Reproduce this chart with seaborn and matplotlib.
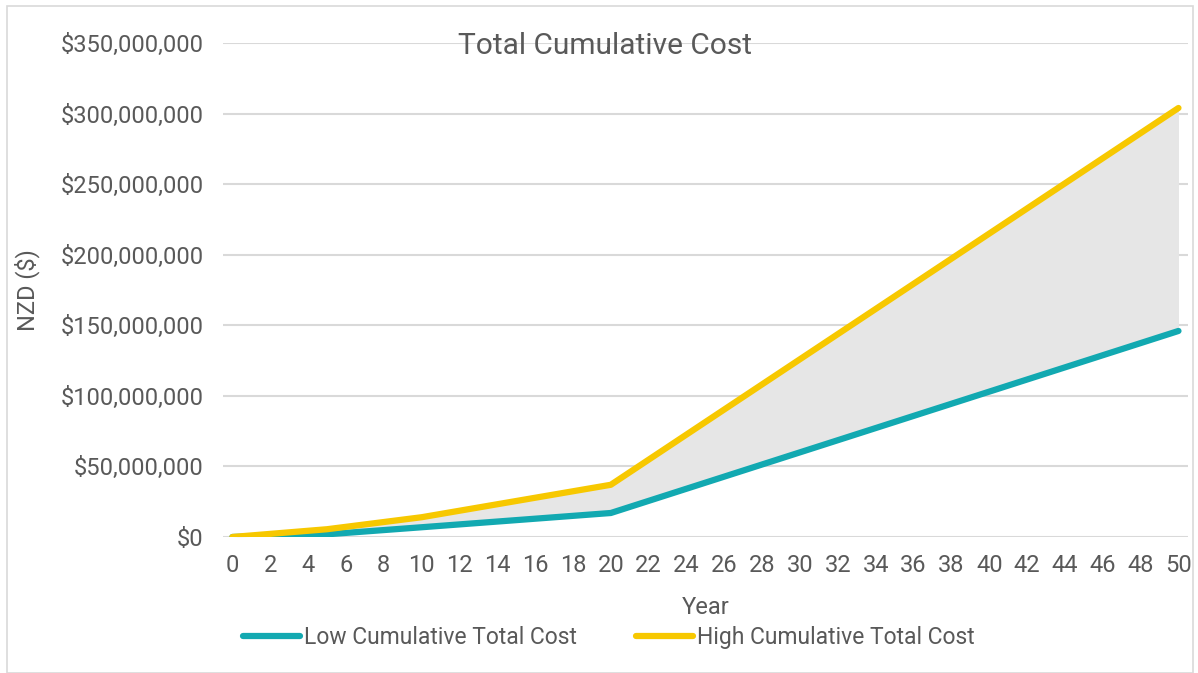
import numpy as np
import pandas as pd
import seaborn as sns
import matplotlib.pyplot as plt
from matplotlib.ticker import FuncFormatter
from matplotlib.patches import Rectangle

years = [0, 5, 10, 20, 50]
low_cost = [0, 1.9e6, 6.9e6, 17.0e6, 146e6]
high_cost = [0, 5.5e6, 14.0e6, 37.0e6, 304e6]
series_names = ['Low Cumulative Total Cost', 'High Cumulative Total Cost']
colours = ['#12A9B1', '#F7C800']
grey = '#595959'

sns.set_theme(style='white')
plt.rcParams['font.family'] = ['Roboto', 'DejaVu Sans']

df = pd.DataFrame({
    'Year': years * 2,
    'Cost': low_cost + high_cost,
    'Series': [series_names[0]] * len(years) + [series_names[1]] * len(years),
})

fig = plt.figure(figsize=(11.98, 6.73), dpi=100)
ax = fig.add_axes([0.1861, 0.2021, 0.8055, 0.7339])

ax.fill_between(years, low_cost, high_cost, color='#e6e6e6', lw=0, zorder=1)
sns.lineplot(data=df, x='Year', y='Cost', hue='Series', palette=colours,
             linewidth=4.5, ax=ax, legend=False, zorder=3,
             solid_capstyle='round', solid_joinstyle='round')

ax.set_xlim(-0.5, 50.5)
ax.set_ylim(0, 350e6)
ax.set_xticks(np.arange(0, 51, 2))
ax.set_yticks(np.arange(0, 350e6 + 1, 50e6))
ax.yaxis.set_major_formatter(FuncFormatter(lambda v, p: f'${v:,.0f}'))
ax.tick_params(axis='both', length=0, labelsize=17, labelcolor=grey)
ax.tick_params(axis='y', pad=14)
ax.tick_params(axis='x', pad=12)
ax.grid(axis='y', color='#d9d9d9', lw=1.5, zorder=0)
for s in ax.spines.values():
    s.set_visible(False)

ax.set_xlabel('Year', fontsize=17, color=grey, labelpad=14)
ax.set_ylabel('NZD ($)', fontsize=17, color=grey)
ax.yaxis.set_label_coords(-0.19, 0.5)

fig.text(0.505, 0.932, 'Total Cumulative Cost', ha='center', va='center',
         fontsize=21.5, color=grey)

handles = [plt.Line2D([0], [0], color=c, lw=4.5, solid_capstyle='round') for c in colours]
fig.legend(handles, series_names, loc='center', bbox_to_anchor=(0.508, 0.053),
           ncol=2, frameon=False, fontsize=16.5, labelcolor=grey,
           handlelength=2.5, handletextpad=0.15, columnspacing=2.6)

fig.patches.append(Rectangle((0.006, 0.0), 0.99, 0.991, transform=fig.transFigure,
                             fill=False, edgecolor='#d9d9d9', lw=1.2))

fig.savefig('out.png', dpi=100)
